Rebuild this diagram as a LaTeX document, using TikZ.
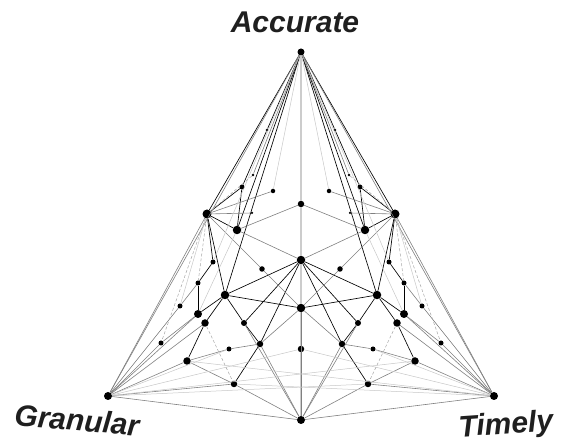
\documentclass[tikz,border=0pt]{standalone}
\usepackage{fontspec}
\setmainfont{Liberation Sans}
\begin{document}
\begin{tikzpicture}[x=1pt,y=1pt,
  dot/.style={circle,fill=black,inner sep=0pt,draw=none},
  ek/.style={black,line width=0.65pt},
  eg/.style={black!50,line width=0.6pt},
  ef/.style={black!22,line width=0.5pt},
  ed/.style={black!35,line width=0.5pt,dash pattern=on 3pt off 2pt},
  ev/.style={black!20,line width=1.5pt},
  lbl/.style={font=\bfseries\itshape\fontsize{30}{30}\selectfont,text=black!88,inner sep=0pt}]
\useasboundingbox (0,0) rectangle (576,443);
% centre and corner nodes
\node[dot,minimum size=7pt,alias=LA,alias=RA] (A) at (301,391) {};
\node[dot,minimum size=8pt,alias=LB,alias=RB] (B) at (301,23) {};
\node[dot,minimum size=8pt,alias=LG] (G) at (108,47) {};
\node[dot,minimum size=8pt,alias=RG] (T) at (494,47) {};
\node[dot,minimum size=6.5pt,alias=LCa,alias=RCa] (Ca) at (301,239) {};
\node[dot,minimum size=8.5pt,alias=LCb,alias=RCb] (Cb) at (301,183) {};
\node[dot,minimum size=8.5pt,alias=LCc,alias=RCc] (Cc) at (301,135) {};
\node[dot,minimum size=6.5pt,alias=LCd,alias=RCd] (Cd) at (301,94) {};
% symmetric side nodes
\foreach \n/\x/\y/\s in {a/267/130/2.8, b/253/175/2.8, c/242/187/5, d/273/191/4.5,
  e/237/230/8.5, f/252/213/2.5, g/213/262/5, h/262/269/5.5, i/198/283/5,
  j/225/295/8.5, k/180/306/5, l/198/314/8, m/205/323/7.5, n/244/323/6,
  o/161/343/5, p/229/349/5, q/260/344/6.5, r/187/361/7.5, s/234/384/6.5,
  u/207/214/9}{
  \node[dot,minimum size=\s pt] (L\n) at ({\x},{443-\y}) {};
  \node[dot,minimum size=\s pt] (R\n) at ({602-\x},{443-\y}) {};
}
% central vertical line
\draw[ev] (A) -- (Ca);
\draw[ev] (Ca) -- (Cb);
\draw[ev] (Cb) -- (Cc);
\draw[ev] (Cc) -- (Cd);
\draw[ev] (Cd) -- (B);
% black edges
\foreach \a/\b in {A/u, A/j, A/e, A/a, a/c, u/e, u/j, u/g, c/u, c/e, g/i, i/l,
  j/Cb, j/Cc, j/l, j/m, j/n, n/q, n/Cb, q/Cb, q/s, m/r}{
  \draw[ek] (L\a) -- (L\b);
  \draw[ek] (R\a) -- (R\b);
}
% grey edges
\foreach \a/\b in {A/G, u/G, u/d, u/h, u/f, h/Cc, e/Ca, e/Cb, G/B, Cc/B, q/Cc,
  q/B, s/B, r/s, r/p, p/q, r/G, s/G, l/G, m/G, k/G, o/G, o/l, k/i, n/B, A/b}{
  \draw[eg] (L\a) -- (L\b);
  \draw[eg] (R\a) -- (R\b);
}
% faint edges
\foreach \a/\b in {A/g, G/Cd, G/p, u/k, A/d, e/l}{
  \draw[ef] (L\a) -- (L\b);
  \draw[ef] (R\a) -- (R\b);
}
% dashed faint edges
\foreach \a/\b in {u/i, u/o, m/s, b/u}{
  \draw[ed] (L\a) -- (L\b);
  \draw[ed] (R\a) -- (R\b);
}
% cross edges
\draw[ef] (G) -- (Rs);
\draw[ef] (G) -- (Rr);
\draw[ef] (T) -- (Ls);
\draw[ef] (T) -- (Lr);
% labels
\node[lbl] (labA) at (295,421) {Accurate};
\node[lbl,rotate=-5] (labG) at (77,23) {Granular};
\node[lbl,rotate=4] (labT) at (506,17) {Timely};
\end{tikzpicture}
\end{document}
